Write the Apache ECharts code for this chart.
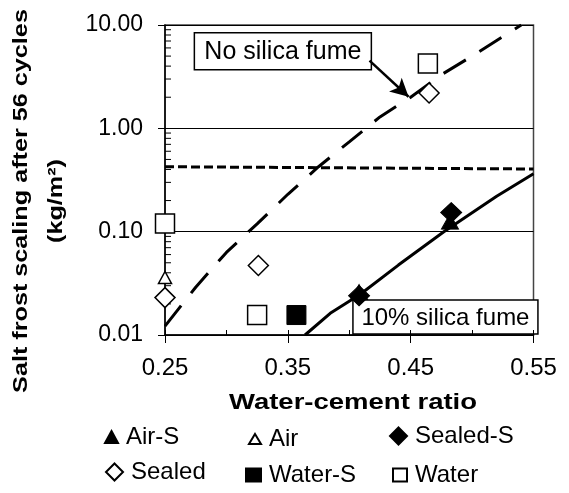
<!DOCTYPE html>
<html><head><meta charset="utf-8">
<script src="https://cdn.jsdelivr.net/npm/echarts@6/dist/echarts.min.js"></script>
<style>html,body{margin:0;padding:0;background:#fff}#c{width:569px;height:493px}</style>
</head><body><div id="c"></div>
<script>
// ---- data ----
const airS     = [[0.408, 0.026], [0.482, 0.125]];
const air      = [[0.25, 0.036]];
const sealedS  = [[0.408, 0.024], [0.483, 0.153]];
const sealed   = [[0.25, 0.023], [0.326, 0.047], [0.465, 2.2]];
const waterS   = [[0.357, 0.0156]];
const water    = [[0.25, 0.12], [0.325, 0.0156], [0.464, 4.25]];
const noSilicaFume  = [[0.25,0.0122],[0.275,0.029],[0.30,0.063],[0.325,0.119],[0.35,0.23],[0.375,0.425],[0.40,0.74],[0.425,1.29],[0.45,2.0],[0.475,3.3],[0.50,5.0],[0.54,10]];
const silicaFume10  = [[0.364,0.01],[0.3845,0.0162],[0.409,0.0248],[0.44,0.0475],[0.477,0.1],[0.52,0.22],[0.55,0.364]];
const threshold     = [[0.25,0.425],[0.55,0.404]];
const yMinorTicks = [0.02,0.03,0.04,0.05,0.06,0.07,0.08,0.09,0.2,0.3,0.4,0.5,0.6,0.7,0.8,0.9,2,3,4,5,6,7,8,9];
const arrowFrom = [0.4165, 4.52];
const arrowTo   = [0.4483, 2.02];
const labelNoSF = 'No silica fume';
const labelSF   = '10% silica fume';
const anchorNoSF = [0.2739, 8.43];
const anchorSF   = [0.403, 0.0218];
const xTitle = 'Water-cement ratio';
const yTitle1 = 'Salt frost scaling after 56 cycles';
const yTitle2 = '(kg/m\u00B2)';

const FONT = "'Liberation Sans', Arial, sans-serif";
const chart = echarts.init(document.getElementById('c'), null, {renderer:'canvas'});

function legendItem(name, left, top, w, h){
  return {data:[name], left:left, top:top, orient:'horizontal', padding:0,
    itemWidth:w, itemHeight:h, selectedMode:false,
    textStyle:{fontFamily:FONT, fontSize:24, color:'#000', padding:[0,0,0,3]}};
}

chart.setOption({
  animation:false,
  backgroundColor:'#fff',
  grid:{left:165, right:35.5, top:25, bottom:158, show:true, borderColor:'#444', borderWidth:1.5, backgroundColor:'transparent'},
  xAxis:[{
    type:'value', min:0.25, max:0.55, interval:0.1,
    axisLine:{show:true, onZero:false, lineStyle:{color:'#000', width:1.5}},
    axisTick:{show:true, inside:false, length:8, lineStyle:{color:'#000', width:1}},
    axisLabel:{margin:21, fontFamily:FONT, fontSize:24, color:'#000', formatter:v=>v.toFixed(2)},
    splitLine:{show:false}
  },{
    type:'value', position:'bottom', min:0.25, max:0.55, interval:0.05,
    axisLine:{show:false, onZero:false},
    axisTick:{show:true, inside:true, length:5, lineStyle:{color:'#000', width:1}},
    axisLabel:{show:false}, splitLine:{show:false}
  }],
  yAxis:{
    type:'log', logBase:10, min:0.01, max:10,
    axisLine:{show:true, lineStyle:{color:'#000', width:1.5}},
    axisTick:{show:true, inside:false, length:7, lineStyle:{color:'#000', width:1}},
    axisLabel:{margin:22, fontFamily:FONT, fontSize:23, color:'#000', formatter:v=>v.toFixed(2)},
    splitLine:{show:true, lineStyle:{color:'#000', width:1}}
  },
  legend:[
    legendItem('Air-S', 104, 425, 13, 12),
    legendItem('Air', 248, 427, 12, 10),
    legendItem('Sealed-S', 389, 424, 17, 17),
    legendItem('Sealed', 105, 460, 17, 17),
    legendItem('Water-S', 245, 463, 15, 13),
    legendItem('Water', 392, 463, 14, 13)
  ],
  series:[
    {type:'custom', name:'minorTicks', silent:true, z:5, data:yMinorTicks.map(v=>[0.25, v]),
      renderItem:(params, api)=>{
        const p = api.coord([api.value(0), api.value(1)]);
        return {type:'line', shape:{x1:p[0], y1:p[1], x2:p[0]+6, y2:p[1]}, style:{stroke:'#000', lineWidth:1}};
      }},
    {type:'line', name:'threshold', data:threshold, showSymbol:false, silent:true, z:3,
      lineStyle:{color:'#000', width:3, type:[9,4]}},
    {type:'line', name:'No silica fume', data:noSilicaFume, showSymbol:false, silent:true, z:3,
      lineStyle:{color:'#000', width:3, type:[26,16]},
      markLine:{silent:true, symbol:['none','arrow'], symbolSize:[14,18], label:{show:false},
        lineStyle:{color:'#000', width:2.5, type:'solid'},
        data:[[{coord:arrowFrom},{coord:arrowTo}]]}},
    {type:'line', name:'10% silica fume', data:silicaFume10, showSymbol:false, silent:true, z:3,
      lineStyle:{color:'#000', width:3, type:'solid'}},
    {type:'scatter', name:'Air-S', data:airS, symbol:'triangle', symbolSize:[17,15], z:6,
      itemStyle:{color:'#000', borderColor:'#000', borderWidth:1, opacity:1}},
    {type:'scatter', name:'Air', data:air, symbol:'triangle', symbolSize:[13,12], z:6,
      itemStyle:{color:'#fff', borderColor:'#000', borderWidth:1.5, opacity:1}},
    {type:'scatter', name:'Sealed-S', data:sealedS, symbol:'diamond', symbolSize:[21,20], z:6,
      itemStyle:{color:'#000', borderColor:'#000', borderWidth:1, opacity:1}},
    {type:'scatter', name:'Sealed', data:sealed, symbol:'diamond', symbolSize:[20,20], z:6,
      itemStyle:{color:'#fff', borderColor:'#000', borderWidth:1.5, opacity:1}},
    {type:'scatter', name:'Water-S', data:waterS, symbol:'rect', symbolSize:19, z:6,
      itemStyle:{color:'#000', borderColor:'#000', borderWidth:1, opacity:1}},
    {type:'scatter', name:'Water', data:water, symbol:'rect', symbolSize:19, z:6,
      itemStyle:{color:'#fff', borderColor:'#000', borderWidth:1.5, opacity:1}}
  ]
});

const f = {xAxisIndex:0, yAxisIndex:0};
const p1 = chart.convertToPixel(f, anchorNoSF);
const p2 = chart.convertToPixel(f, anchorSF);
chart.setOption({graphic:[
  {type:'group', x:p1[0], y:p1[1], z:100, children:[
    {type:'rect', shape:{x:0, y:0, width:177, height:37}, style:{fill:'#fff', stroke:'#000', lineWidth:1.5}},
    {type:'text', x:88.5, y:19, style:{text:labelNoSF, font:'25px '+FONT, fill:'#000', align:'center', verticalAlign:'middle'}}
  ]},
  {type:'group', x:p2[0], y:p2[1], z:100, children:[
    {type:'rect', shape:{x:0, y:0, width:185, height:34}, style:{fill:'#fff', stroke:'#000', lineWidth:1.5}},
    {type:'text', x:92.5, y:18, style:{text:labelSF, font:'24px '+FONT, fill:'#000', align:'center', verticalAlign:'middle'}}
  ]},
  {type:'text', x:353, y:403, scaleX:1.25, style:{text:xTitle, font:'bold 22px '+FONT, fill:'#000', align:'center', verticalAlign:'middle'}},
  {type:'text', x:21, y:201, rotation:Math.PI/2, scaleX:1.2, style:{text:yTitle1, font:'bold 21px '+FONT, fill:'#000', align:'center', verticalAlign:'middle'}},
  {type:'text', x:56, y:201, rotation:Math.PI/2, scaleX:1.2, style:{text:yTitle2, font:'bold 21px '+FONT, fill:'#000', align:'center', verticalAlign:'middle'}}
]});
</script></body></html>
